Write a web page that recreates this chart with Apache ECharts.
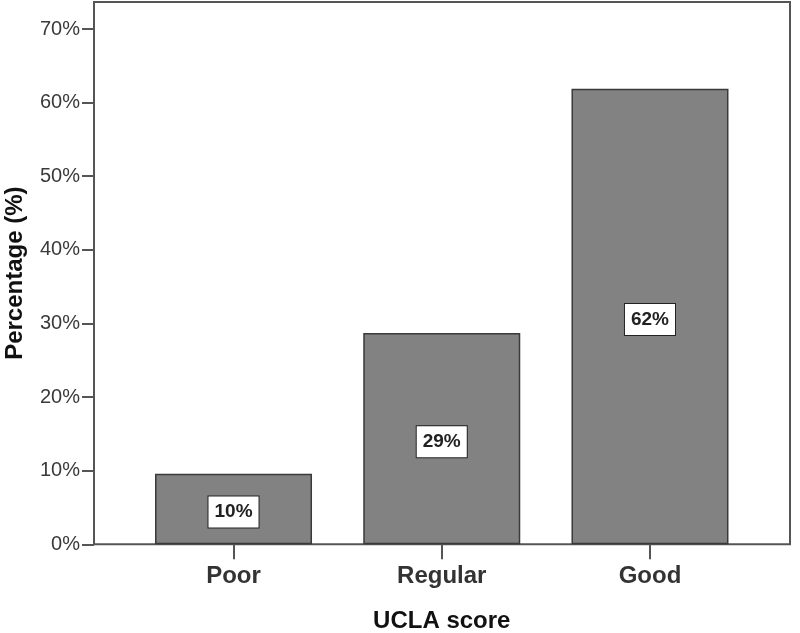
<!DOCTYPE html>
<html>
<head>
<meta charset="utf-8">
<script src="https://cdn.jsdelivr.net/npm/echarts@6/dist/echarts.min.js"></script>
<style>
html,body{margin:0;padding:0;background:#fff;}
#c{width:800px;height:633px;}
</style>
</head>
<body>
<div id="c"></div>
<script>
var categories = ['Poor', 'Regular', 'Good'];
var values = [9.6, 28.7, 61.9];
var valueLabels = ['10%', '29%', '62%'];
var yTicks = [0, 10, 20, 30, 40, 50, 60, 70];

var chart = echarts.init(document.getElementById('c'), null, {renderer: 'canvas'});
var FONT = 'Liberation Sans, Arial, sans-serif';
var yMax = 73.67;

chart.setOption({
  backgroundColor: '#fff',
  animation: false,
  grid: [
    {left: 94, top: 2, width: 696, bottom: 88.7, outerBoundsMode: 'none', containLabel: false, show: true, borderColor: '#555', borderWidth: 2, backgroundColor: 'transparent'},
    {left: 129.4, top: 2, right: 45.9, bottom: 88.7, outerBoundsMode: 'none', containLabel: false}
  ],
  xAxis: [
    {gridIndex: 0, type: 'category', data: categories, show: false},
    {
      gridIndex: 1, type: 'category', data: categories,
      axisLine: {show: false},
      axisTick: {show: true, alignWithLabel: true, length: 15, lineStyle: {color: '#555', width: 2}},
      axisLabel: {margin: 20, fontFamily: FONT, fontSize: 24, fontWeight: 'bold', color: '#333'},
      name: 'UCLA score', nameLocation: 'middle', nameGap: 65,
      nameTextStyle: {fontFamily: FONT, fontSize: 24, fontWeight: 'bold', color: '#111'}
    }
  ],
  yAxis: [
    {
      gridIndex: 0, type: 'value', min: 0, max: yMax, interval: 10,
      splitLine: {show: false},
      axisLine: {show: true, lineStyle: {color: '#555', width: 2}},
      axisTick: {show: true, length: 12, customValues: yTicks, lineStyle: {color: '#555', width: 2}},
      axisLabel: {customValues: yTicks, formatter: '{value}%', margin: 14, fontFamily: FONT, fontSize: 20, color: '#3a3a3a'},
      name: 'Percentage (%)', nameLocation: 'middle', nameGap: 67,
      nameTextStyle: {fontFamily: FONT, fontSize: 24, fontWeight: 'bold', color: '#111'}
    },
    {gridIndex: 1, type: 'value', min: 0, max: yMax, show: false, splitLine: {show: false}}
  ],
  series: [{
    type: 'bar',
    xAxisIndex: 1, yAxisIndex: 1,
    data: values,
    barWidth: '75.4%',
    itemStyle: {color: '#828282', borderColor: '#3a3a3a', borderWidth: 1.5},
    label: {
      show: true, position: 'inside', offset: [0, 3],
      formatter: function (p) { return valueLabels[p.dataIndex]; },
      backgroundColor: '#fff', borderColor: '#222', borderWidth: 1,
      padding: [6, 6, 6, 6], lineHeight: 19,
      fontFamily: FONT, fontSize: 19, fontWeight: 'bold', color: '#222'
    }
  }]
});
</script>
</body>
</html>
